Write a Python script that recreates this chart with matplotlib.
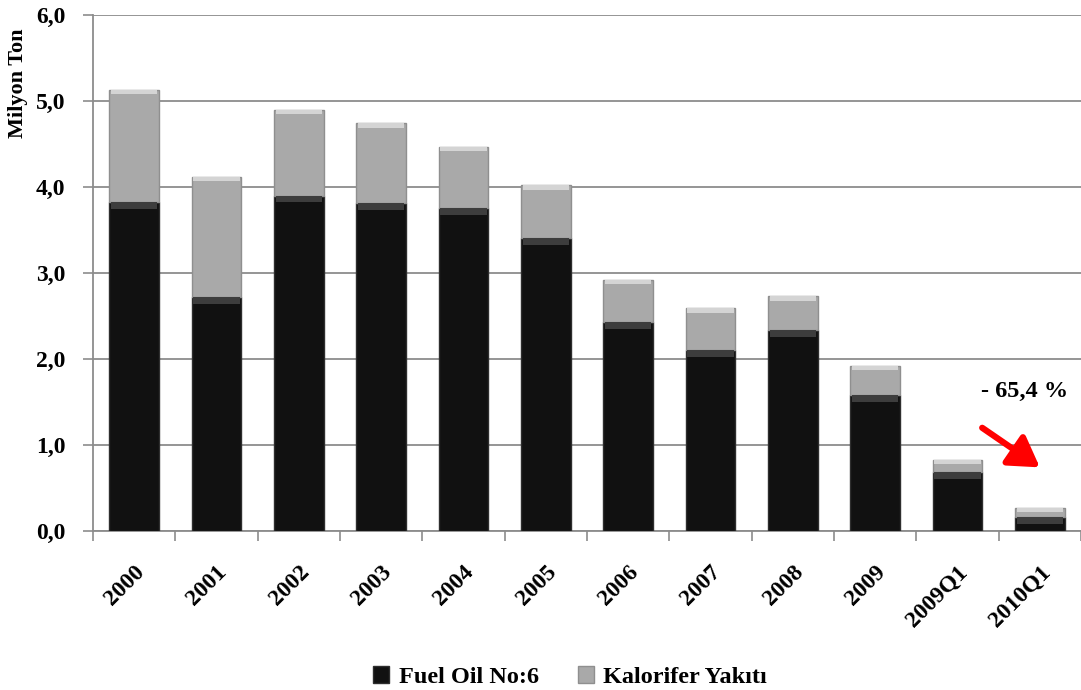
import matplotlib
matplotlib.use("Agg")
import matplotlib.pyplot as plt
import numpy as np

categories = ["2000", "2001", "2002", "2003", "2004", "2005", "2006", "2007", "2008", "2009", "2009Q1", "2010Q1"]
fuel_oil = [3.82, 2.72, 3.90, 3.81, 3.76, 3.41, 2.43, 2.10, 2.34, 1.58, 0.69, 0.16]
kalorifer = [1.31, 1.40, 1.00, 0.93, 0.71, 0.61, 0.49, 0.49, 0.39, 0.34, 0.14, 0.11]
y_ticks = [0, 1, 2, 3, 4, 5, 6]
y_labels = ["0,0", "1,0", "2,0", "3,0", "4,0", "5,0", "6,0"]
series_names = ["Fuel Oil No:6", "Kalorifer Yakıtı"]
annotation_text = "- 65,4 %"

plt.rcParams['font.family'] = ['Liberation Serif', 'DejaVu Serif']
plt.rcParams['font.weight'] = 'bold'

fig = plt.figure(figsize=(10.81, 6.90), dpi=100)
ax = fig.add_axes([93/1081, 1-531/690, 1-93/1081, (531-15)/690])

x = np.arange(len(categories))
fuel = np.array(fuel_oil)
kal = np.array(kalorifer)
total = fuel + kal
w = 0.6

b1 = ax.bar(x, fuel, width=w, color="#111111", edgecolor="#2e2e2e", linewidth=1.0,
            label=series_names[0], zorder=3)
b2 = ax.bar(x, kal, width=w, bottom=fuel, color="#a9a9a9", edgecolor="#8f8f8f",
            linewidth=1.0, label=series_names[1], zorder=3)

# bevel highlights at the top of each segment
band_dark = np.minimum(0.08, fuel * 0.5)
ax.bar(x, band_dark, width=w * 0.94, bottom=fuel - band_dark, color="#3d3d3d",
       linewidth=0, zorder=4)
band_light = np.minimum(0.05, kal * 0.4)
ax.bar(x, band_light, width=w * 0.94, bottom=total - band_light, color="#d4d4d4",
       linewidth=0, zorder=4)

ax.set_ylim(0, 6)
ax.set_xlim(-0.5, len(categories) - 0.5)
ax.set_yticks(y_ticks)
ax.set_yticklabels(y_labels, fontsize=17, fontweight='bold')
ax.yaxis.grid(True, color="#8c8c8c", linewidth=1.3, zorder=0)
ax.set_axisbelow(True)

ax.set_xticks(x)
ax.set_xticklabels(categories, rotation=45, ha='right', rotation_mode='anchor',
                   fontsize=17, fontweight='bold')
ax.tick_params(axis='x', which='major', length=0, pad=22)
ax.set_xticks(np.arange(-0.5, len(categories), 1.0), minor=True)
ax.tick_params(axis='x', which='minor', length=7, color="#8c8c8c", width=1.2)
ax.tick_params(axis='y', length=7, color="#8c8c8c", width=1.2, pad=13)

for s in ['top', 'right']:
    ax.spines[s].set_visible(False)
for s in ['left', 'bottom']:
    ax.spines[s].set_color("#8c8c8c")
    ax.spines[s].set_linewidth(1.3)

fig.text(18/1081, 1-83/690, "Milyon Ton", rotation=90, ha='center', va='center',
         fontsize=16, fontweight='bold')

ax.text(10.82, 1.62, annotation_text, ha='center', va='center', fontsize=17.5, fontweight='bold')
ax.annotate("", xy=(11.0, 0.74), xytext=(10.30, 1.20),
            arrowprops=dict(arrowstyle="-|>,head_width=0.55,head_length=0.9",
                            mutation_scale=20, color="red", lw=4.5,
                            shrinkA=0, shrinkB=0), annotation_clip=False)

leg = fig.legend(handles=[b1, b2], labels=series_names, loc='center',
                 bbox_to_anchor=(570/1081, 1-677/690), ncol=2, frameon=False,
                 prop={'size': 17.5, 'weight': 'bold'}, handlelength=0.66, handleheight=0.66,
                 columnspacing=1.6, handletextpad=0.4)

fig.savefig("out.png", dpi=100)
